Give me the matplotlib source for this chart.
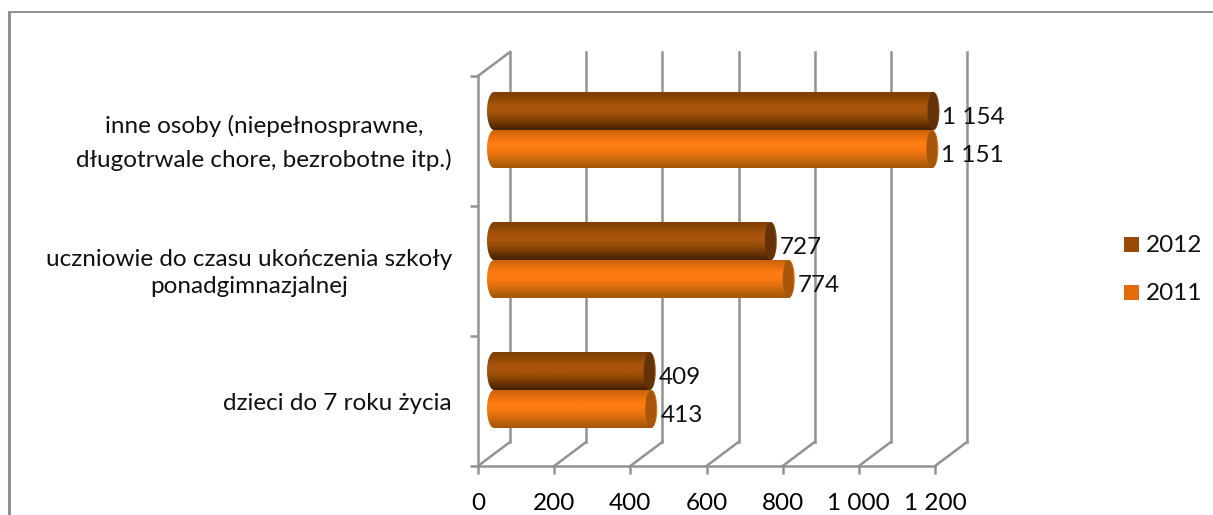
import numpy as np
import matplotlib
matplotlib.use('Agg')
import matplotlib.pyplot as plt
from matplotlib.colors import LinearSegmentedColormap
from matplotlib.lines import Line2D
from matplotlib.patches import Ellipse, PathPatch, Rectangle
from matplotlib.path import Path
from matplotlib.transforms import Affine2D

plt.rcParams['font.family'] = ['Lato', 'DejaVu Sans']

# data
categories = ['dzieci do 7 roku życia',
              'uczniowie do czasu ukończenia szkoły\nponadgimnazjalnej',
              'inne osoby (niepełnosprawne,\ndługotrwale chore, bezrobotne itp.)']
label_spacing = [1.0, 1.35, 1.7]
values_2012 = [409, 727, 1154]
values_2011 = [413, 774, 1151]
x_ticks = [0, 200, 400, 600, 800, 1000, 1200]
x_tick_labels = ['0', '200', '400', '600', '800', '1 000', '1 200']
legend_years = ['2012', '2011']

W, H = 1213, 515
FS = 17.5
GREY = '#929292'
LW = 1.8

fig = plt.figure(figsize=(W / 100, H / 100), dpi=100)
ax = fig.add_axes([478 / W, 1 - 466 / H, 457 / W, 390 / H])
ax.set_xlim(0, 1200)
ax.set_ylim(-0.5, 2.5)
ax.patch.set_visible(False)

px_x = 457 / 1200   # px per unit
px_y = 130          # px per category

back = ax.transData + Affine2D().translate(32, 24)
mid = ax.transData + Affine2D().translate(16, 11)


def wall_line(x, y):
    # from the front plane to the back plane
    x0, y0 = ax.transData.transform((x, y))
    x1, y1 = back.transform((x, y))
    line = Line2D([x0, x1], [y0, y1], color=GREY, lw=LW, transform=None, zorder=1)
    ax.add_artist(line)
    line.set_clip_on(False)


for t in x_ticks:
    ax.plot([t, t], [-0.5, 2.5], color=GREY, lw=LW, transform=back, clip_on=False,
            solid_capstyle='projecting', zorder=1)
    wall_line(t, -0.5)
wall_line(0, 2.5)

for side in ['top', 'right']:
    ax.spines[side].set_visible(False)
for side in ['left', 'bottom']:
    ax.spines[side].set_color(GREY)
    ax.spines[side].set_linewidth(LW)

ax.set_xticks(x_ticks)
ax.set_xticklabels(x_tick_labels, fontsize=FS, color='black')
ax.set_yticks([-0.5, 0.5, 1.5, 2.5])
ax.set_yticklabels([])
ax.tick_params(axis='both', length=5.5, width=LW, color=GREY)
ax.tick_params(axis='x', pad=14)

for i, cat in enumerate(categories):
    ax.text(-26 / px_x, i - 2 / px_y, cat, ha='right', va='center', multialignment='center',
            fontsize=FS, linespacing=label_spacing[i], color='#111111')

dark_cmap = LinearSegmentedColormap.from_list(
    'd', ['#7c3e04', '#8f4806', '#a8540c', '#a8540c', '#8f4807', '#6a3404', '#452102'])
orange_cmap = LinearSegmentedColormap.from_list(
    'o', ['#c8620a', '#e66f0e', '#fd7c12', '#fb7a12', '#e0700e', '#c0640c', '#a25608'])
grad = np.linspace(0, 1, 64).reshape(-1, 1)

bar_h = 38 / px_y
left_w = 7 / px_x
cap_w = 6 / px_x


def cylinder(val, yc, cmap, cap_color):
    # body outline: rounded left end, rounded right end
    t = np.linspace(np.pi / 2, 3 * np.pi / 2, 30)
    xs = np.r_[left_w * np.cos(t), val + cap_w * np.cos(t - np.pi)]
    ys = np.r_[yc + bar_h / 2 * np.sin(t), yc + bar_h / 2 * np.sin(t - np.pi)]
    clip = PathPatch(Path(np.c_[xs, ys]), facecolor='none', edgecolor='none', transform=mid)
    clip.set_clip_on(False)
    ax.add_patch(clip)
    im = ax.imshow(grad, extent=(-left_w, val + cap_w, yc - bar_h / 2, yc + bar_h / 2),
                   aspect='auto', cmap=cmap, transform=mid, zorder=3,
                   interpolation='bilinear', origin='upper')
    im.set_clip_box(fig.bbox)
    im.set_clip_path(clip)
    cap = Ellipse((val - 0.5 / px_x, yc), 11 / px_x, bar_h * 0.98, facecolor=cap_color,
                  edgecolor='none', transform=mid, zorder=4)
    ax.add_patch(cap)
    cap.set_clip_on(False)


for i in range(len(categories)):
    cylinder(values_2012[i], i + bar_h / 2, dark_cmap, '#643208')
    cylinder(values_2011[i], i - bar_h / 2, orange_cmap, '#a8560c')

ax.set_xlim(0, 1200)
ax.set_ylim(-0.5, 2.5)


def fmt(v):
    return f'{v:,}'.replace(',', ' ')


for i in range(len(categories)):
    for val, yc in [(values_2012[i], i + bar_h / 2), (values_2011[i], i - bar_h / 2)]:
        ax.text(val + 9 / px_x, yc - 6 / px_y, fmt(val), transform=mid, ha='left', va='center',
                fontsize=FS, color='#111111', zorder=5, clip_on=False)

# legend
for year, col, top in zip(legend_years, ['#984807', '#E46C0A'], [237, 285]):
    fig.add_artist(Rectangle((1124 / W, 1 - (top + 15) / H), 15 / W, 15 / H, facecolor=col,
                             edgecolor='none', transform=fig.transFigure))
    fig.text(1146 / W, 1 - (top + 8) / H, year, fontsize=FS, va='center', ha='left', color='#111111')

# chart frame
fig.add_artist(Line2D([9 / W, 9 / W], [0, 1 - 12 / H], color=GREY, lw=2.2, transform=fig.transFigure))
fig.add_artist(Line2D([9 / W, 1], [1 - 12 / H, 1 - 12 / H], color=GREY, lw=1.4, transform=fig.transFigure))

fig.savefig('out.png', dpi=100, facecolor='white')
